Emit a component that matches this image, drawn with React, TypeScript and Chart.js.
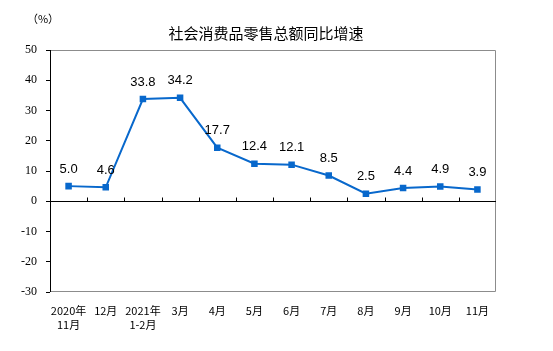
import React, { useEffect, useRef } from "react";
import { Chart, registerables } from "chart.js";

Chart.register(...registerables);

const categories: (string | string[])[] = [
  ["2020年", "11月"], "12月", ["2021年", "1-2月"], "3月", "4月", "5月",
  "6月", "7月", "8月", "9月", "10月", "11月",
];
const growth = [5.0, 4.6, 33.8, 34.2, 17.7, 12.4, 12.1, 8.5, 2.5, 4.4, 4.9, 3.9];
const yTicks = [50, 40, 30, 20, 10, 0, -10, -20, -30];
const titleText = "社会消费品零售总额同比增速";
const unitText = "（%）";

const LINE_COLOR = "#0868cc";

const framePlugin = {
  id: "frameAndLabels",
  beforeDatasetsDraw(chart: any) {
    const { ctx, chartArea: a, scales } = chart;
    const x = scales.x;
    const y = scales.y;
    ctx.save();
    ctx.strokeStyle = "#8c8c8c";
    ctx.lineWidth = 1;
    ctx.beginPath();
    ctx.moveTo(a.left, a.top + 0.5);
    ctx.lineTo(a.right - 0.5, a.top + 0.5);
    ctx.lineTo(a.right - 0.5, a.bottom - 0.5);
    ctx.lineTo(a.left, a.bottom - 0.5);
    ctx.stroke();
    ctx.strokeStyle = "#000";
    ctx.beginPath();
    ctx.moveTo(a.left + 0.5, a.top);
    ctx.lineTo(a.left + 0.5, a.bottom);
    ctx.stroke();
    const y0 = Math.round(y.getPixelForValue(0)) + 0.5;
    ctx.beginPath();
    ctx.moveTo(a.left, y0);
    ctx.lineTo(a.right, y0);
    ctx.stroke();
    const n = categories.length;
    const step = (a.right - a.left) / n;
    ctx.beginPath();
    for (let i = 1; i < n; i++) {
      const px = Math.round(x.getPixelForValue(i) - step / 2) + 0.5;
      ctx.moveTo(px, y0);
      ctx.lineTo(px, y0 - 4);
    }
    ctx.stroke();
    ctx.restore();
  },
  afterDatasetsDraw(chart: any) {
    const { ctx } = chart;
    const meta = chart.getDatasetMeta(0);
    ctx.save();
    ctx.fillStyle = "#000";
    ctx.font = "13px 'Liberation Sans', Arial, sans-serif";
    ctx.textAlign = "center";
    ctx.textBaseline = "middle";
    meta.data.forEach((pt: any, i: number) => {
      ctx.fillText(growth[i].toFixed(1), pt.x, pt.y - 17);
    });
    ctx.font = "15px 'Noto Sans CJK SC', sans-serif";
    ctx.fillText(titleText, 266, 33);
    ctx.font = "11px 'Noto Sans CJK SC', sans-serif";
    ctx.fillText(unitText, 43, 19);
    ctx.restore();
  },
};

export default function App() {
  const ref = useRef<HTMLCanvasElement | null>(null);
  useEffect(() => {
    document.body.style.margin = "0";
    if (!ref.current) return;
    const chart = new Chart(ref.current, {
      type: "line",
      data: {
        labels: categories,
        datasets: [
          {
            data: growth,
            borderColor: LINE_COLOR,
            backgroundColor: LINE_COLOR,
            borderWidth: 2,
            pointStyle: "rect",
            pointRadius: 3.2,
            pointHoverRadius: 3.2,
            tension: 0,
          },
        ],
      },
      options: {
        responsive: false,
        animation: false,
        events: [],
        layout: { padding: { left: 0, top: 50, right: 57, bottom: 0 } },
        plugins: {
          legend: { display: false },
          tooltip: { enabled: false },
          title: { display: false },
        },
        scales: {
          x: {
            offset: true,
            grid: { display: false, drawTicks: false },
            border: { display: false },
            ticks: {
              padding: 12,
              color: "#000",
              font: { size: 11, family: "'Noto Sans CJK SC', sans-serif", lineHeight: 1.25 },
              maxRotation: 0,
              autoSkip: false,
            },
            afterFit: (s: any) => {
              s.height = 59;
            },
          },
          y: {
            min: -30,
            max: 50,
            afterBuildTicks: (s: any) => {
              s.ticks = yTicks.map((v) => ({ value: v }));
            },
            grid: {
              drawOnChartArea: false,
              drawTicks: true,
              tickLength: 4,
              color: "#000",
            },
            border: { display: false },
            ticks: {
              padding: 9,
              color: "#000",
              font: { size: 12, family: "'Liberation Serif', 'Times New Roman', serif" },
            },
            afterFit: (s: any) => {
              s.width = 50;
            },
          },
        },
      },
      plugins: [framePlugin],
    });
    return () => chart.destroy();
  }, []);
  return (
    <div style={{ width: 553, height: 351 }}>
      <canvas ref={ref} width={553} height={351} style={{ display: "block" }} />
    </div>
  );
}
